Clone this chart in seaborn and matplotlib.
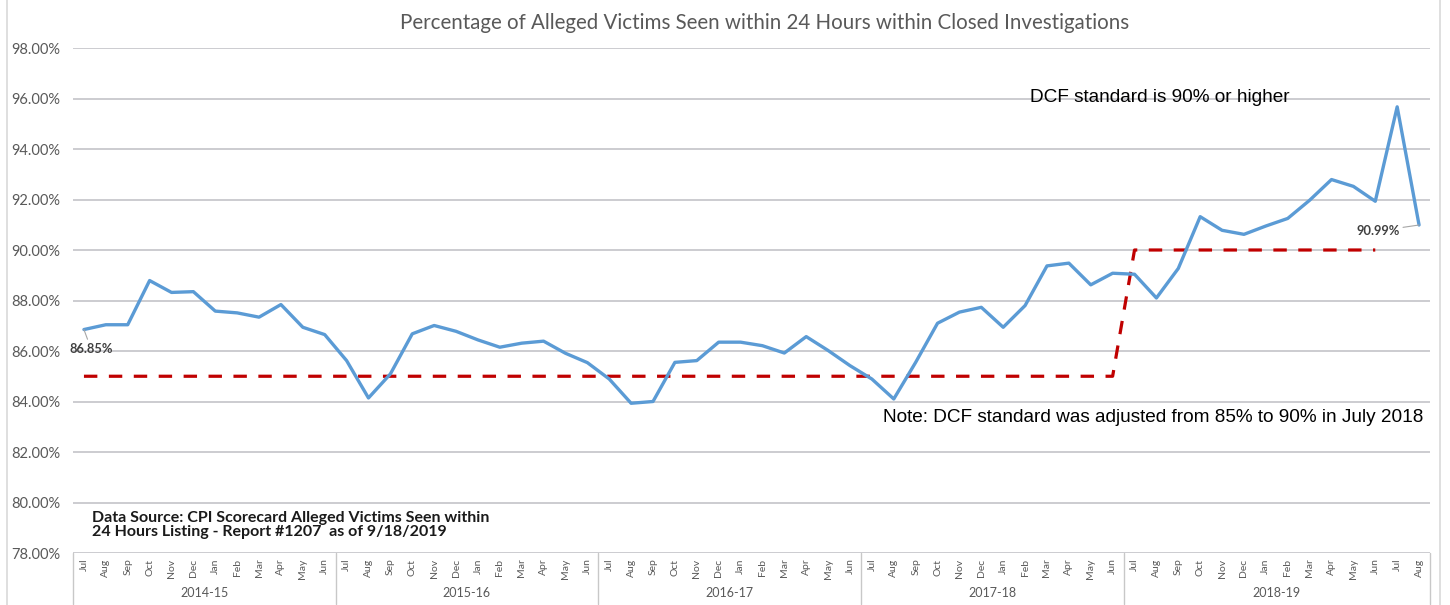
import numpy as np
import pandas as pd
import matplotlib
matplotlib.use("Agg")
import matplotlib.pyplot as plt
import matplotlib.transforms as mtransforms
from matplotlib.lines import Line2D
import seaborn as sns

# ---------------- data ----------------
months = ['Jul', 'Aug', 'Sep', 'Oct', 'Nov', 'Dec', 'Jan', 'Feb', 'Mar', 'Apr', 'May', 'Jun'] * 5 + ['Jul', 'Aug']
fiscal_years = ['2014-15', '2015-16', '2016-17', '2017-18', '2018-19']
fy_sizes = [12, 12, 12, 12, 14]

pct_seen = [86.85, 87.04, 87.04, 88.79, 88.32, 88.35, 87.58, 87.51, 87.34, 87.84, 86.94, 86.65,
            85.62, 84.14, 85.09, 86.68, 87.01, 86.78, 86.44, 86.15, 86.31, 86.39, 85.91, 85.54,
            84.89, 83.93, 84.00, 85.55, 85.62, 86.35, 86.35, 86.21, 85.92, 86.57, 86.02, 85.42,
            84.89, 84.10, 85.55, 87.10, 87.54, 87.73, 86.94, 87.80, 89.37, 89.48, 88.62, 89.08,
            89.04, 88.10, 89.27, 91.32, 90.78, 90.62, 90.95, 91.25, 91.97, 92.79, 92.52, 91.93,
            95.67, 90.99]

dcf_standard = [85.0] * 48 + [90.0] * 12 + [np.nan] * 2

title = "Percentage of Alleged Victims Seen within 24 Hours within Closed Investigations"
note_top = "DCF standard is 90% or higher"
note_mid = "Note: DCF standard was adjusted from 85% to 90% in July 2018"
source = "Data Source: CPI Scorecard Alleged Victims Seen within\n24 Hours Listing - Report #1207  as of 9/18/2019"

# ---------------- style ----------------
sns.set_theme(style="white")
plt.rcParams['font.family'] = ['Lato', 'DejaVu Sans']

df = pd.DataFrame({"idx": np.arange(len(pct_seen)), "pct": pct_seen, "std": dcf_standard})

fig = plt.figure(figsize=(14.5, 6.05), dpi=100)
ax = fig.add_axes([73 / 1450, 1 - 553 / 605, (1430 - 73) / 1450, (553 - 48) / 605])

ax.set_ylim(78, 98)
ax.set_xlim(-0.5, len(pct_seen) - 0.5)
ax.set_yticks(np.arange(78, 98.1, 2))
ax.yaxis.grid(True, color='#BFBFC4', linewidth=1.1)
ax.set_axisbelow(True)
for s in ax.spines.values():
    s.set_visible(False)

sns.lineplot(data=df, x="idx", y="pct", ax=ax, color='#5B9BD5', linewidth=2.4, zorder=3)
sns.lineplot(data=df.dropna(), x="idx", y="std", ax=ax, color='#C00000', linewidth=2.3,
             dashes=False, zorder=2)
ax.lines[-1].set_dashes((4.2, 3.6))

ax.set_xlabel("")
ax.set_ylabel("")
ax.set_xticks(df["idx"])
ax.set_xticklabels(months, rotation=90, fontsize=7.5, color='#595959')
ax.set_yticklabels([f"{v:.2f}%" for v in np.arange(78, 98.1, 2)], fontsize=10.5, color='#595959')
ax.tick_params(axis='x', length=0, pad=4)
ax.tick_params(axis='y', length=0, pad=9)

# category axis separators and fiscal year labels
trans = mtransforms.blended_transform_factory(ax.transData, ax.transAxes)
bounds = np.concatenate([[0], np.cumsum(fy_sizes)]) - 0.5
for b in bounds:
    ax.add_line(Line2D([b, b], [0, -0.1], transform=trans, color='#C8C8C8', linewidth=1, clip_on=False))
for i, fy in enumerate(fiscal_years):
    mid = (bounds[i] + bounds[i + 1]) / 2
    ax.text(mid, -0.079, fy, transform=trans, ha='center', va='center', fontsize=9, color='#595959')

# data labels
ax.annotate(f"{pct_seen[0]:.2f}%", xy=(0, pct_seen[0]), xytext=(7, -19), textcoords='offset pixels',
            ha='center', va='center', fontsize=9.3, fontweight='bold', color='#404040',
            arrowprops=dict(arrowstyle='-', color='#A6A6A6', lw=0.8, shrinkA=0, shrinkB=0))
ax.annotate(f"{pct_seen[-1]:.2f}%", xy=(len(pct_seen) - 1, pct_seen[-1]), xytext=(-41, -6),
            textcoords='offset pixels', ha='center', va='center', fontsize=9.3, fontweight='bold',
            color='#404040',
            arrowprops=dict(arrowstyle='-', color='#A6A6A6', lw=0.8, shrinkA=0, shrinkB=0))

# annotations
ax.text(0.705, 0.901, note_top, transform=ax.transAxes, ha='left', va='center',
        fontsize=13.7, color='black', family=['Liberation Sans', 'DejaVu Sans'])
ax.text(0.597, 0.269, note_mid, transform=ax.transAxes, ha='left', va='center',
        fontsize=13.7, color='black', family=['Liberation Sans', 'DejaVu Sans'])
ax.text(0.014, 0.0554, source, transform=ax.transAxes, ha='left', va='center',
        fontsize=11.5, fontweight='bold', color='#1a1a1a', linespacing=1.02)

fig.text(765 / 1450, 1 - 23 / 605, title, ha='center', va='center', fontsize=14.8, color='#595959')

# chart frame
fig.add_artist(Line2D([7 / 1450, 7 / 1450], [0, 1], transform=fig.transFigure, color='#D9D9D9', lw=1.2))
fig.add_artist(Line2D([1440 / 1450, 1440 / 1450], [0, 1], transform=fig.transFigure, color='#D9D9D9', lw=1.2))

fig.savefig("out.png", dpi=100)
